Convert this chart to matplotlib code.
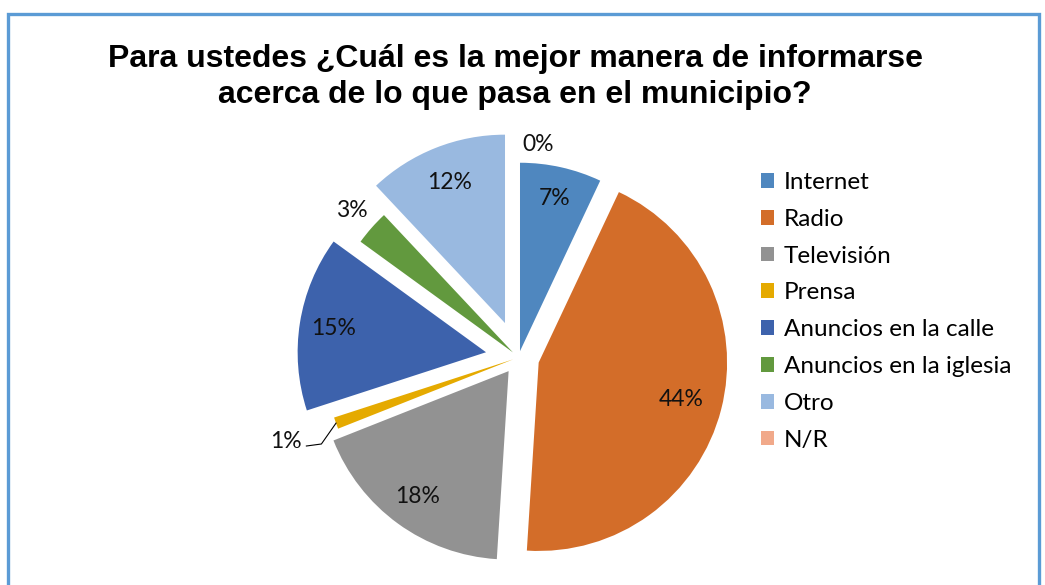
import numpy as np
import matplotlib
matplotlib.use("Agg")
import matplotlib.pyplot as plt
from matplotlib.patches import Rectangle

# datos del grafico
categorias = ["Internet", "Radio", "Televisión", "Prensa", "Anuncios en la calle",
              "Anuncios en la iglesia", "Otro", "N/R"]
valores = [7, 44, 18, 1, 15, 3, 12, 0]
etiquetas = ["7%", "44%", "18%", "1%", "15%", "3%", "12%", "0%"]
colores = ["#4F87BF", "#D36D29", "#929292", "#E5AA00", "#3D62AC", "#62993E", "#99B9E0", "#F1A98A"]
separacion = [0.034, 0.11, 0.09, 0.03, 0.175, 0.04, 0.196, 0.0]
dist_etiqueta = [0.83, 0.78, 0.82, 1.28, 0.82, 1.14, 0.80, 1.13]

titulo = "Para ustedes ¿Cuál es la mejor manera de informarse\nacerca de lo que pasa en el municipio?"

W, H = 1045, 585
fig = plt.figure(figsize=(W / 100, H / 100), dpi=100)
ax = fig.add_axes([0, 0, 1, 1])

# marco azul
fig.patches.append(Rectangle((8 / W, -0.05), (1031) / W, (H - 14) / H + 0.05,
                             transform=fig.transFigure, fill=False,
                             edgecolor="#5B9BD5", linewidth=2.4))

cx, cy, r = 518.6, H - 357.4, 188.4
wedges, _ = ax.pie(valores, colors=colores, explode=[s * r for s in separacion],
                   startangle=90, counterclock=False, center=(cx, cy), radius=r,
                   wedgeprops=dict(linewidth=0), frame=True)
ax.set_xlim(0, W)
ax.set_ylim(0, H)
ax.set_aspect("equal")
ax.axis("off")

total = sum(valores)
inicio = 90.0
for i, v in enumerate(valores):
    ang = inicio - 360.0 * v / total / 2
    inicio -= 360.0 * v / total
    t = np.deg2rad(ang)
    ox = cx + separacion[i] * r * np.cos(t)
    oy = cy + separacion[i] * r * np.sin(t)
    lx = ox + dist_etiqueta[i] * r * np.cos(t)
    ly = oy + dist_etiqueta[i] * r * np.sin(t)
    ha = "center"
    if etiquetas[i] == "0%":
        ha = "left"
        lx += 4
    if etiquetas[i] == "1%":
        # linea guia
        px = ox + r * np.cos(t)
        py = oy + r * np.sin(t)
        ax.plot([px, lx + 35, lx + 20], [py, ly - 3, ly - 5], color="black", lw=0.8)
        ha = "right"
        lx += 15
    ax.text(lx, ly, etiquetas[i], ha=ha, va="center", fontsize=16.5,
            family=["Lato", "DejaVu Sans"], color="#111111")

ax.text(515, H - 77, titulo, ha="center", va="center",
        fontsize=23, fontweight="bold", family=["Liberation Sans", "DejaVu Sans"],
        linespacing=1.22)

ax.legend(wedges, categorias, loc="upper left", bbox_to_anchor=(744 / W, 1 - 155 / H),
          bbox_transform=fig.transFigure, frameon=False,
          prop=dict(family=["Lato", "DejaVu Sans"], size=17.5),
          handlelength=0.55, handleheight=0.55, handletextpad=0.4, labelspacing=0.65,
          borderpad=0.2)

fig.savefig("out.png", dpi=100)
